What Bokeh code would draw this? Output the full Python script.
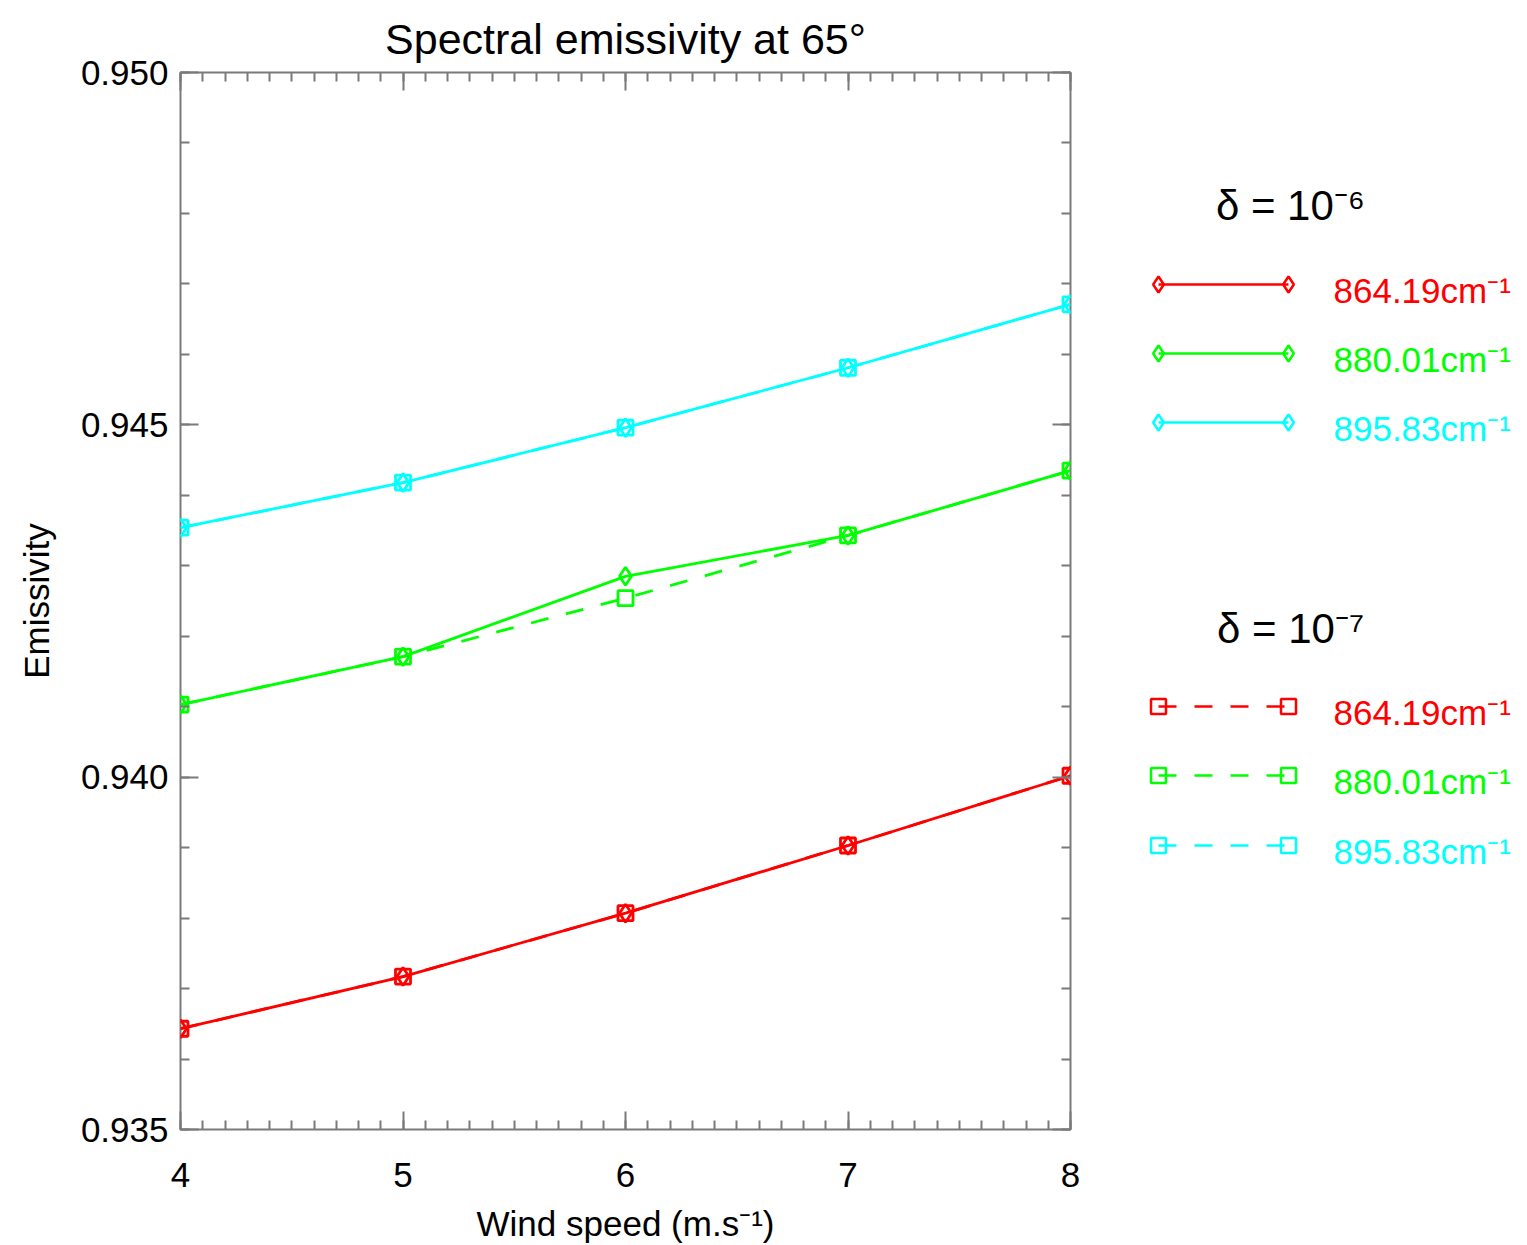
from bokeh.plotting import figure
from bokeh.models import Range1d, LinearAxis, FixedTicker, NumeralTickFormatter, ColumnDataSource
from bokeh.layouts import row
from bokeh.core.properties import value
from bokeh.embed import file_html
from bokeh.resources import INLINE

# ---------------- data ----------------
wind_speed = [4, 5, 6, 7, 8]
wavenumbers = ["864.19cm⁻¹", "880.01cm⁻¹", "895.83cm⁻¹"]
colors = ["#ff0000", "#00ff00", "#00ffff"]

# delta = 1e-6
emis_d6_864 = [0.93643, 0.93717, 0.93807, 0.93903, 0.94002]
emis_d6_880 = [0.94103, 0.94171, 0.94285, 0.94343, 0.94435]
emis_d6_895 = [0.94354, 0.94418, 0.94496, 0.94581, 0.94671]
# delta = 1e-7
emis_d7_864 = [0.93643, 0.93717, 0.93807, 0.93903, 0.94002]
emis_d7_880 = [0.94103, 0.94171, 0.94254, 0.94343, 0.94435]
emis_d7_895 = [0.94354, 0.94418, 0.94496, 0.94581, 0.94671]

x_major_ticks = [4, 5, 6, 7, 8]
x_minor_ticks = [round(4 + 0.1 * i, 1) for i in range(41)]
y_major_ticks = [0.935, 0.940, 0.945, 0.950]
y_minor_ticks = [round(0.935 + 0.001 * i, 3) for i in range(16)]

FONT = "Liberation Sans"
GRAY = "#7a7a7a"

# ---------------- main plot ----------------
p = figure(width=1090, height=1245, output_backend="svg", toolbar_location=None,
           x_range=Range1d(4, 8), y_range=Range1d(0.935, 0.950),
           frame_width=890, frame_height=1057,
           min_border_left=180, min_border_right=20, min_border_top=72, min_border_bottom=116,
           x_axis_label="Wind speed (m.s⁻¹)", y_axis_label="Emissivity")
p.title.text = "Spectral emissivity at 65°"
p.title.text_font = FONT
p.title.text_font_size = "43px"
p.title.text_font_style = "normal"
p.title.text_color = "black"
p.title.align = "center"
p.title.standoff = 20
p.grid.visible = False
p.outline_line_color = GRAY
p.outline_line_width = 2
p.background_fill_color = "white"
p.border_fill_color = "white"

top_axis = LinearAxis()
right_axis = LinearAxis()
p.add_layout(top_axis, "above")
p.add_layout(right_axis, "right")

bottom_axis = p.below[0]
left_axis = p.left[0]

for ax in (bottom_axis, top_axis):
    ax.ticker = FixedTicker(ticks=x_major_ticks, minor_ticks=x_minor_ticks)
for ax in (left_axis, right_axis):
    ax.ticker = FixedTicker(ticks=y_major_ticks, minor_ticks=y_minor_ticks)
left_axis.formatter = NumeralTickFormatter(format="0.000")

for ax in (bottom_axis, top_axis, left_axis, right_axis):
    ax.axis_line_color = None
    ax.major_tick_in = 18
    ax.major_tick_out = 0
    ax.minor_tick_in = 9
    ax.minor_tick_out = 0
    ax.major_tick_line_color = GRAY
    ax.minor_tick_line_color = GRAY
    ax.major_tick_line_width = 2
    ax.minor_tick_line_width = 2
    ax.major_label_text_font = FONT
    ax.major_label_text_font_size = "35px"
    ax.major_label_text_color = "black"
    ax.axis_label_text_font = FONT
    ax.axis_label_text_font_size = "35px"
    ax.axis_label_text_font_style = "normal"
    ax.axis_label_text_color = "black"

for ax in (top_axis, right_axis):
    ax.major_label_text_color = None
    ax.major_label_standoff = 0

bottom_axis.major_label_standoff = 33
bottom_axis.axis_label_standoff = 14
left_axis.major_label_standoff = 12
left_axis.axis_label_standoff = 22

d6 = [emis_d6_864, emis_d6_880, emis_d6_895]
d7 = [emis_d7_864, emis_d7_880, emis_d7_895]

for vals, c in zip(d7, colors):
    src = ColumnDataSource(dict(x=wind_speed, y=vals))
    p.line("x", "y", source=src, line_color=c, line_width=2.8, line_dash="18 18")
    p.scatter("x", "y", source=src, marker="square", size=15, fill_color=None,
              line_color=c, line_width=2.8)
for vals, c in zip(d6, colors):
    src = ColumnDataSource(dict(x=wind_speed, y=vals))
    p.line("x", "y", source=src, line_color=c, line_width=2.8)
    p.scatter("x", "y", source=src, marker="diamond", size=18, fill_color=None,
              line_color=c, line_width=2.8)

# ---------------- legend panel (coordinates = page pixels) ----------------
lg = figure(width=437, height=1245, output_backend="svg", toolbar_location=None,
            x_range=Range1d(1090, 1527), y_range=Range1d(1129, 72),
            frame_width=437, frame_height=1057,
            min_border_left=0, min_border_right=0, min_border_top=72, min_border_bottom=116)
lg.axis.visible = False
lg.grid.visible = False
lg.outline_line_color = None
lg.background_fill_color = "white"
lg.border_fill_color = "white"

groups = [
    dict(header="δ = 10⁻⁶", hy=205, ys=[284, 353, 422], marker="diamond", size=16, dash="solid"),
    dict(header="δ = 10⁻⁷", hy=628, ys=[706, 775, 845], marker="square", size=15, dash="18 18"),
]
for g in groups:
    lg.text(x=[1290], y=[g["hy"]], text=[g["header"]], text_font=value(FONT),
            text_font_size="42px", text_align="center", text_baseline="middle",
            text_color="black")
    for yy, c, lab in zip(g["ys"], colors, wavenumbers):
        lg.line(x=[1158, 1288], y=[yy, yy], line_color=c, line_width=2.5, line_dash=g["dash"])
        lg.scatter(x=[1158, 1288], y=[yy, yy], marker=g["marker"], size=g["size"],
                   fill_color=None, line_color=c, line_width=2.5)
        lg.text(x=[1333], y=[yy + 6], text=[lab], text_font=value(FONT),
                text_font_size="35px", text_align="left", text_baseline="middle",
                text_color=c)

layout = row(p, lg)
open("out.html", "w").write(file_html(layout, INLINE))
